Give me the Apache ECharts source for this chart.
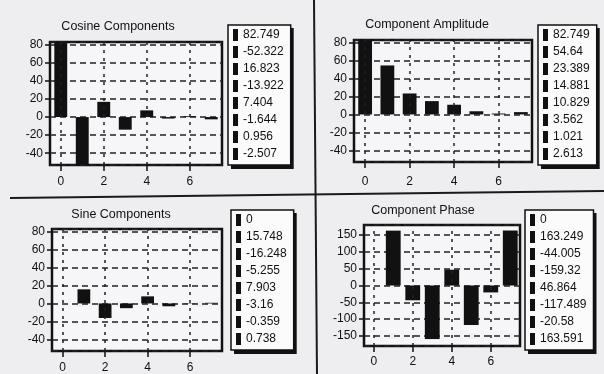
<!DOCTYPE html>
<html><head><meta charset="utf-8">
<script src="https://cdn.jsdelivr.net/npm/echarts@6/dist/echarts.min.js"></script>
<style>html,body{margin:0;padding:0;background:#eeeef1}#c{width:604px;height:374px}</style>
</head><body><div id="c"></div>
<script>
const categories = ['0','1','2','3','4','5','6','7'];
const xGridCats = ['0','2','4','6'];
const cosineValues = [82.749, -52.322, 16.823, -13.922, 7.404, -1.644, 0.956, -2.507];
const amplitudeValues = [82.749, 54.64, 23.389, 14.881, 10.829, 3.562, 1.021, 2.613];
const sineValues = [0, 15.748, -16.248, -5.255, 7.903, -3.16, -0.359, 0.738];
const phaseValues = [0, 163.249, -44.005, -159.32, 46.864, -117.489, -20.58, 163.591];
const titles = ['Cosine Components', 'Component Amplitude', 'Sine Components', 'Component Phase'];

const FONT = '"Liberation Sans", Arial, sans-serif';
const INK = '#111';

const panels = [
  {vals: cosineValues, grid: {left: 50, top: 42, width: 172, height: 123}, y: {min: -53, max: 83, step: 20},
   legend: {left: 228, top: 25}, title: [118, 27], bw: '60%', lm: 11},
  {vals: amplitudeValues, grid: {left: 354, top: 40, width: 178, height: 122}, y: {min: -53, max: 83, step: 20},
   legend: {left: 538, top: 25}, title: [427, 25], bw: '62%', lm: 14},
  {vals: sineValues, grid: {left: 52, top: 229, width: 170, height: 123}, y: {min: -53, max: 83, step: 20},
   legend: {left: 231, top: 210}, title: [121, 215], bw: '60%', lm: 11},
  {vals: phaseValues, grid: {left: 364, top: 225, width: 156, height: 121}, y: {min: -180, max: 180, step: 50},
   legend: {left: 525, top: 210}, title: [423, 211], bw: '76%', lm: 10}
];

const LP = [4, 7, 5, 5]; // legend padding
const IW = 5, IH = 12, IG = 5;
const mctx = document.createElement('canvas').getContext('2d');
mctx.font = '12px ' + FONT;

const grid = [], xAxis = [], yAxis = [], legend = [], series = [], graphic = [];
panels.forEach((p, k) => {
  grid.push(Object.assign({show: true, borderColor: INK, borderWidth: 2.5, backgroundColor: '#f6f6f8'}, p.grid));
  xAxis.push({
    gridIndex: k, type: 'category', data: categories, position: 'bottom',
    axisLine: {show: false, onZero: false},
    axisTick: {show: true, alignWithLabel: true, interval: 1, length: 6, lineStyle: {color: INK, width: 1.5}},
    axisLabel: {interval: 1, margin: p.lm, fontSize: 12, color: INK, fontFamily: FONT},
    splitLine: {show: false}
  });
  yAxis.push({
    gridIndex: k, type: 'value', min: p.y.min, max: p.y.max, splitNumber: 7,
    minInterval: p.y.step, maxInterval: p.y.step,
    axisLine: {show: false},
    axisTick: {show: true, length: 5, lineStyle: {color: INK, width: 1.5}},
    axisLabel: {showMinLabel: false, showMaxLabel: false, fontSize: 12, color: INK, fontFamily: FONT, margin: 7},
    splitLine: {show: true, lineStyle: {type: [6, 4], color: '#222', width: 1.5}}
  });
  const names = p.vals.map(v => String(v));
  legend.push(Object.assign({
    orient: 'vertical', data: names, icon: 'rect', itemWidth: IW, itemHeight: IH, itemGap: IG,
    padding: LP, selectedMode: false, z: 6,
    textStyle: {fontSize: 12, color: INK, fontFamily: FONT},
    borderColor: INK, borderWidth: 1.5, backgroundColor: '#fbfbfc'
  }, p.legend));
  // solid drop shadow behind the legend box
  const tw = Math.max(...names.map(n => mctx.measureText(n).width));
  const bw = LP[3] + IW + 5 + tw + LP[1];
  const bh = LP[0] + names.length * IH + (names.length - 1) * IG + LP[2];
  graphic.push({type: 'rect', silent: true, z: 5,
    shape: {x: p.legend.left + 3, y: p.legend.top + 3, width: bw, height: bh + 1},
    style: {fill: INK}});
  p.vals.forEach((v, i) => {
    const s = {
      type: 'bar', name: names[i], xAxisIndex: k, yAxisIndex: k, stack: 'st' + k, barWidth: p.bw,
      data: p.vals.map((w, j) => (j === i ? w : '-')),
      itemStyle: {color: INK}, silent: true, animation: false
    };
    if (i === 0) {
      s.markLine = {
        silent: true, symbol: 'none', label: {show: false}, animation: false,
        lineStyle: {type: [3, 5], color: '#222', width: 1.5},
        data: xGridCats.map(c => ({xAxis: c}))
      };
    }
    series.push(s);
  });
  graphic.push({type: 'text', x: p.title[0], y: p.title[1], silent: true,
    style: {text: titles[k], align: 'center', verticalAlign: 'middle', font: '12.5px ' + FONT, fill: INK}});
});
graphic.push({type: 'line', silent: true, shape: {x1: 314, y1: 0, x2: 317, y2: 374}, style: {stroke: '#1a1a1a', lineWidth: 2}});
graphic.push({type: 'line', silent: true, shape: {x1: 10, y1: 198, x2: 604, y2: 191}, style: {stroke: '#1a1a1a', lineWidth: 2}});

const chart = echarts.init(document.getElementById('c'), null, {renderer: 'canvas'});
chart.setOption({backgroundColor: '#eeeef1', animation: false, grid, xAxis, yAxis, legend, series, graphic});
</script></body></html>
